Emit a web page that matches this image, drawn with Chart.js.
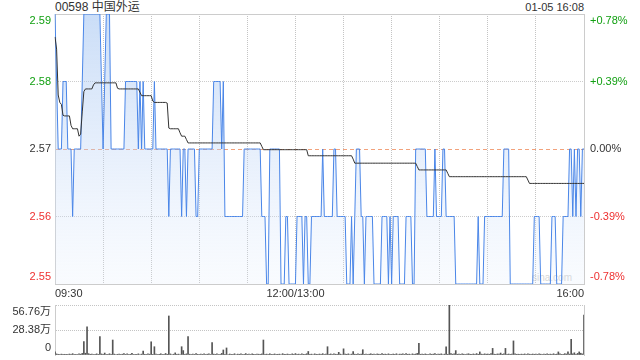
<!DOCTYPE html>
<html><head><meta charset="utf-8">
<script src="https://cdn.jsdelivr.net/npm/chart.js"></script>
<style>
html,body{margin:0;padding:0;background:#fff;width:640px;height:360px;overflow:hidden;}
body{position:relative;font-family:'Liberation Sans','Noto Sans CJK SC',sans-serif;}
#c1{position:absolute;left:0;top:0;}
#c2{position:absolute;left:0;top:290px;}
.t{position:absolute;color:#333;white-space:nowrap;}
</style></head><body>
<div class="t" style="left:55px;top:0px;font-size:12px;line-height:14px;">00598 中国外运</div>
<div class="t" style="right:56px;top:1px;font-size:11px;line-height:13px;">01-05 16:08</div>
<div class="t" style="left:532px;top:272px;font-size:10px;line-height:12px;color:#d6d6d6;">sina.com</div>
<canvas id="c1" width="640" height="300"></canvas>
<canvas id="c2" width="640" height="80"></canvas>
<script>
// ---- data ----
const preClose = 2.57;
const priceTicks = [2.55, 2.56, 2.57, 2.58, 2.59];
const pctTicks = ['-0.78%', '-0.39%', '0.00%', '+0.39%', '+0.78%'];
const volTicks = [0, 28.38, 56.76];
const volTickLabels = ['0', '28.38万', '56.76万'];
const timeGridIdx = [0, 30, 60, 90, 120, 150, 180, 210, 240, 270, 300, 330];
const timeTickIdx = [0, 150, 330];
const timeTickLabels = ['09:30', '12:00/13:00', '16:00'];

const times = [];
function fmt(m){const h=Math.floor(m/60),mm=m%60;return (h<10?'0':'')+h+':'+(mm<10?'0':'')+mm;}
for(let m=9*60+30;m<=12*60;m++) times.push(fmt(m));
for(let m=13*60+1;m<=16*60;m++) times.push(fmt(m));

const price = [
2.59,2.58,2.57,2.57,2.57,2.58,2.58,2.58,2.57,2.57,
2.57,2.56,2.57,2.57,2.57,2.57,2.57,2.58,2.59,2.59,
2.59,2.59,2.59,2.59,2.59,2.59,2.59,2.59,2.59,2.58,
2.57,2.58,2.59,2.59,2.59,2.57,2.57,2.57,2.57,2.57,
2.57,2.57,2.57,2.57,2.58,2.58,2.58,2.58,2.58,2.58,
2.58,2.58,2.57,2.58,2.57,2.58,2.57,2.57,2.57,2.57,
2.57,2.57,2.58,2.57,2.57,2.57,2.57,2.57,2.57,2.57,
2.57,2.56,2.57,2.57,2.57,2.57,2.57,2.57,2.57,2.56,
2.57,2.57,2.56,2.57,2.57,2.57,2.57,2.57,2.56,2.56,
2.57,2.57,2.57,2.57,2.57,2.57,2.57,2.57,2.57,2.58,
2.58,2.58,2.58,2.58,2.57,2.58,2.56,2.56,2.56,2.56,
2.56,2.56,2.56,2.56,2.56,2.56,2.56,2.56,2.57,2.57,
2.57,2.57,2.57,2.57,2.57,2.57,2.57,2.57,2.57,2.56,
2.56,2.56,2.55,2.55,2.57,2.57,2.57,2.57,2.57,2.57,
2.57,2.55,2.55,2.55,2.56,2.56,2.55,2.55,2.55,2.55,
2.55,2.56,2.56,2.56,2.56,2.55,2.56,2.56,2.55,2.55,
2.56,2.56,2.56,2.56,2.56,2.56,2.56,2.57,2.56,2.56,
2.56,2.56,2.56,2.56,2.57,2.57,2.56,2.56,2.56,2.56,
2.56,2.56,2.55,2.55,2.55,2.56,2.55,2.56,2.57,2.57,
2.57,2.56,2.56,2.55,2.56,2.56,2.56,2.56,2.56,2.55,
2.55,2.55,2.55,2.55,2.56,2.56,2.56,2.56,2.55,2.56,
2.55,2.56,2.56,2.56,2.56,2.55,2.55,2.55,2.55,2.56,
2.56,2.56,2.56,2.55,2.55,2.57,2.57,2.57,2.57,2.57,
2.57,2.57,2.56,2.56,2.56,2.56,2.56,2.57,2.56,2.56,
2.56,2.56,2.57,2.57,2.56,2.56,2.56,2.56,2.56,2.56,
2.55,2.55,2.55,2.55,2.55,2.55,2.55,2.55,2.55,2.55,
2.55,2.55,2.55,2.55,2.56,2.55,2.55,2.55,2.56,2.56,
2.56,2.56,2.56,2.56,2.56,2.56,2.56,2.56,2.56,2.56,
2.57,2.57,2.57,2.57,2.55,2.55,2.55,2.55,2.55,2.55,
2.55,2.55,2.55,2.55,2.55,2.55,2.55,2.55,2.55,2.56,
2.56,2.56,2.56,2.55,2.55,2.55,2.55,2.55,2.55,2.55,
2.56,2.56,2.56,2.55,2.55,2.55,2.55,2.56,2.56,2.56,
2.56,2.57,2.57,2.56,2.57,2.56,2.57,2.57,2.56,2.57,
2.57
];

const avgPrice = [
2.5866,2.5848,2.5780,2.5769,2.5766,2.5750,2.5749,2.5749,2.5749,2.5749,
2.5735,2.5730,2.5730,2.5730,2.5730,2.5719,2.5722,2.5755,2.5785,2.5789,
2.5789,2.5789,2.5789,2.5789,2.5795,2.5798,2.5798,2.5798,2.5798,2.5798,
2.5798,2.5798,2.5798,2.5798,2.5798,2.5798,2.5798,2.5798,2.5798,2.5790,
2.5789,2.5789,2.5789,2.5789,2.5789,2.5789,2.5789,2.5789,2.5789,2.5789,
2.5789,2.5789,2.5789,2.5784,2.5779,2.5779,2.5779,2.5779,2.5779,2.5779,
2.5779,2.5771,2.5769,2.5769,2.5769,2.5769,2.5769,2.5769,2.5769,2.5769,
2.5768,2.5731,2.5730,2.5730,2.5730,2.5730,2.5730,2.5730,2.5724,2.5719,
2.5719,2.5719,2.5714,2.5709,2.5709,2.5709,2.5709,2.5709,2.5709,2.5709,
2.5709,2.5709,2.5709,2.5709,2.5709,2.5709,2.5709,2.5709,2.5709,2.5709,
2.5709,2.5709,2.5709,2.5709,2.5709,2.5709,2.5709,2.5709,2.5709,2.5709,
2.5709,2.5709,2.5709,2.5709,2.5709,2.5709,2.5709,2.5709,2.5709,2.5709,
2.5709,2.5709,2.5709,2.5709,2.5709,2.5709,2.5709,2.5709,2.5709,2.5704,
2.5699,2.5699,2.5699,2.5699,2.5699,2.5699,2.5699,2.5699,2.5699,2.5699,
2.5699,2.5699,2.5699,2.5699,2.5699,2.5699,2.5699,2.5699,2.5699,2.5699,
2.5699,2.5699,2.5699,2.5699,2.5699,2.5699,2.5699,2.5699,2.5690,2.5690,
2.5690,2.5690,2.5690,2.5690,2.5690,2.5690,2.5690,2.5690,2.5690,2.5690,
2.5690,2.5690,2.5690,2.5690,2.5690,2.5690,2.5690,2.5690,2.5690,2.5690,
2.5690,2.5690,2.5690,2.5690,2.5690,2.5690,2.5685,2.5679,2.5679,2.5679,
2.5679,2.5679,2.5679,2.5679,2.5679,2.5679,2.5679,2.5679,2.5679,2.5679,
2.5679,2.5679,2.5679,2.5679,2.5679,2.5679,2.5679,2.5679,2.5679,2.5679,
2.5679,2.5679,2.5679,2.5679,2.5679,2.5679,2.5679,2.5679,2.5679,2.5679,
2.5679,2.5679,2.5679,2.5679,2.5679,2.5679,2.5674,2.5669,2.5669,2.5669,
2.5669,2.5669,2.5669,2.5669,2.5669,2.5669,2.5669,2.5669,2.5669,2.5669,
2.5669,2.5669,2.5669,2.5669,2.5669,2.5664,2.5659,2.5659,2.5659,2.5659,
2.5659,2.5659,2.5659,2.5659,2.5659,2.5659,2.5659,2.5659,2.5659,2.5659,
2.5659,2.5659,2.5659,2.5659,2.5659,2.5659,2.5659,2.5659,2.5659,2.5659,
2.5659,2.5659,2.5659,2.5659,2.5659,2.5659,2.5659,2.5659,2.5659,2.5659,
2.5659,2.5659,2.5659,2.5659,2.5659,2.5659,2.5659,2.5659,2.5659,2.5659,
2.5659,2.5659,2.5659,2.5659,2.5659,2.5654,2.5649,2.5649,2.5649,2.5649,
2.5649,2.5649,2.5649,2.5649,2.5649,2.5649,2.5649,2.5649,2.5649,2.5649,
2.5649,2.5649,2.5649,2.5649,2.5649,2.5649,2.5649,2.5649,2.5649,2.5649,
2.5649,2.5649,2.5649,2.5649,2.5649,2.5649,2.5649,2.5649,2.5649,2.5649,
2.5649
];

// volume in 万 shares
const volume = [
3.5,1.2,0.8,0.6,1.0,0.5,0.8,0.4,0.6,1.1,
0.7,1.5,0.5,0.8,0.6,1.2,0.9,1.8,15.1,2.0,
32.1,1.5,0.8,1.0,0.6,0.9,1.3,0.7,20.8,1.2,
0.8,2.2,0.6,0.9,1.4,0.7,17.0,1.0,0.6,0.8,
1.1,0.5,0.9,1.6,0.7,1.2,0.6,0.8,1.9,0.5,
0.9,0.7,1.3,0.6,1.0,4.5,0.8,0.5,1.2,0.9,
15.0,0.7,9.4,1.1,0.6,0.8,1.4,0.5,0.9,1.7,
0.8,44.3,1.2,0.6,0.9,2.4,0.7,1.0,0.6,9.4,
5.0,0.8,1.3,20.8,0.9,0.6,1.1,0.7,1.5,0.8,
0.6,1.0,0.7,1.2,0.5,0.9,1.4,0.6,14.0,1.0,
0.7,1.3,0.6,0.9,1.8,5.7,0.8,8.0,0.6,1.1,
0.7,0.9,1.4,0.6,1.0,0.8,1.2,0.5,0.9,1.6,
0.7,1.0,0.6,1.3,0.8,0.5,1.1,0.9,0.7,1.2,
17.0,0.8,1.0,0.6,1.4,0.7,0.9,1.2,0.5,0.8,
1.0,0.6,1.5,0.8,0.7,1.1,0.9,0.6,1.3,0.8,
1.6,0.7,1.0,0.6,1.2,0.8,0.9,1.4,4.0,0.7,
1.0,0.6,1.3,0.8,0.9,1.1,0.7,1.5,0.6,1.0,
9.4,0.8,1.2,0.6,1.4,0.9,0.7,3.0,1.0,0.6,
7.0,1.1,0.8,1.3,0.6,1.0,4.0,0.9,0.7,1.2,
0.8,1.0,6.0,0.7,1.1,0.6,0.9,1.4,0.8,1.0,
0.6,1.2,0.9,0.7,1.5,0.8,1.0,0.6,1.3,0.9,
0.7,1.1,0.8,1.4,0.6,1.0,0.9,1.2,0.7,1.6,
0.8,1.0,0.6,1.3,0.9,1.1,1.8,13.3,0.8,1.0,
0.7,1.2,0.9,0.6,1.4,0.8,1.0,1.7,0.7,1.1,
0.9,1.3,0.6,1.0,9.4,0.8,56.76,1.5,0.9,1.2,
5.0,0.8,1.1,0.7,1.3,0.9,0.6,1.0,1.4,0.8,
0.7,1.2,0.9,1.6,0.8,3.5,1.0,0.7,1.3,0.9,
1.1,0.8,1.5,7.5,0.9,0.7,1.2,1.0,2.2,0.8,
1.3,7.5,0.9,1.1,0.7,1.0,16.0,1.2,0.8,0.9,
0.7,1.0,0.8,1.2,0.6,1.4,0.9,0.7,1.1,0.8,
1.0,0.7,1.3,0.9,0.6,1.1,0.8,1.2,0.7,1.0,
0.9,1.4,0.8,1.0,3.5,1.2,0.7,0.9,1.5,1.1,
3.5,1.0,17.8,1.3,2.5,0.9,1.8,3.5,2.0,1.2,
45.4
];

// ---- charts ----
Chart.defaults.font.family = "'Liberation Sans','Noto Sans CJK SC',sans-serif";
Chart.defaults.font.size = 11;

const GREEN = '#12a012', RED = '#ee3030', DARK = '#333';
function tickColor(v){ if (Math.abs(v - preClose) < 1e-6) return DARK; return v > preClose ? GREEN : RED; }
function edgeLabel(t, i, n){ if (i === n - 1) return ['', t]; if (i === 0) return [t, '']; return t; }
function fixV(w){ return s => { s.width = w; s.paddingTop = 0; s.paddingBottom = 0; }; }

const priceGradient = (ctx) => {
  const ca = ctx.chart.chartArea;
  if (!ca) return 'rgba(170,200,242,0.4)';
  const g = ctx.chart.ctx.createLinearGradient(0, ca.top, 0, ca.bottom);
  g.addColorStop(0, 'rgba(150,188,240,0.5)');
  g.addColorStop(0.5, 'rgba(190,213,246,0.38)');
  g.addColorStop(1, 'rgba(225,236,252,0.2)');
  return g;
};

const lastIdx = times.length - 1;

new Chart(document.getElementById('c1'), {
  type: 'line',
  data: {
    labels: times,
    datasets: [
      { label: '均价', data: avgPrice, borderColor: '#333', borderWidth: 1, pointRadius: 0, fill: false, tension: 0, order: 0, yAxisID: 'y' },
      { label: '价格', data: price, borderColor: '#4a86e8', borderWidth: 1, pointRadius: 0, fill: 'start', backgroundColor: priceGradient, tension: 0, order: 1, yAxisID: 'y' }
    ]
  },
  options: {
    responsive: false, animation: false, devicePixelRatio: 1,
    layout: { padding: { top: 14, left: 0, right: 0, bottom: 0 } },
    plugins: { legend: { display: false }, tooltip: { enabled: false } },
    scales: {
      x: {
        type: 'category', offset: false,
        afterBuildTicks: s => { s.ticks = timeGridIdx.map(v => ({ value: v })); },
        afterFit: s => { s.height = 16; s.paddingLeft = 0; s.paddingRight = 0; },
        ticks: {
          autoSkip: false, maxRotation: 0, minRotation: 0, align: 'inner', padding: 3, color: DARK,
          callback: (v) => { const k = timeTickIdx.indexOf(v); return k >= 0 ? timeTickLabels[k] : ''; }
        },
        grid: {
          drawTicks: false,
          color: c => (c.tick && c.tick.value > 0 && c.tick.value < lastIdx) ? '#c4c4c4' : 'rgba(0,0,0,0)'
        },
        border: { color: '#ccc', dash: [1, 1] }
      },
      y: {
        type: 'linear', position: 'left', min: priceTicks[0], max: priceTicks[priceTicks.length - 1],
        afterBuildTicks: s => { s.ticks = priceTicks.map(v => ({ value: v })); },
        afterFit: fixV(55),
        ticks: {
          autoSkip: false, padding: 4,
          color: c => tickColor(priceTicks[c.index]),
          callback: (v, i) => edgeLabel(priceTicks[i].toFixed(2), i, priceTicks.length)
        },
        grid: {
          drawTicks: false,
          color: c => (c.index === 2 ? '#f2a27c' : '#cccccc')
        },
        border: {
          color: '#ccc',
          dash: c => (c.index === 2 ? [4, 3] : (c.index === 1 || c.index === 3) ? [1, 1] : [])
        }
      },
      y1: {
        type: 'linear', position: 'right', min: priceTicks[0], max: priceTicks[priceTicks.length - 1],
        afterBuildTicks: s => { s.ticks = priceTicks.map(v => ({ value: v })); },
        afterFit: fixV(56),
        ticks: {
          autoSkip: false, padding: 6,
          color: c => tickColor(priceTicks[c.index]),
          callback: (v, i) => edgeLabel(pctTicks[i], i, pctTicks.length)
        },
        grid: { drawOnChartArea: false, drawTicks: false },
        border: { color: '#ccc' }
      }
    }
  }
});

new Chart(document.getElementById('c2'), {
  type: 'bar',
  data: {
    labels: times,
    datasets: [{ label: '成交量', data: volume, backgroundColor: '#555', barThickness: 1, borderWidth: 0 }]
  },
  options: {
    responsive: false, animation: false, devicePixelRatio: 1,
    layout: { padding: { top: 15, bottom: 15, left: 0, right: 0 } },
    plugins: { legend: { display: false }, tooltip: { enabled: false } },
    scales: {
      x: { type: 'category', offset: false, display: false },
      y: {
        type: 'linear', position: 'left', min: 0, max: volTicks[volTicks.length - 1],
        afterBuildTicks: s => { s.ticks = volTicks.map(v => ({ value: v })); },
        afterFit: fixV(55),
        ticks: {
          autoSkip: false, padding: 4, color: DARK,
          callback: (v, i) => edgeLabel(volTickLabels[i], i, volTickLabels.length)
        },
        grid: { drawTicks: false, color: c => (c.index === 0 ? 'rgba(0,0,0,0)' : '#c4c4c4') },
        border: { color: '#ccc', dash: [1, 1] }
      },
      yr: {
        type: 'linear', position: 'right', min: 0, max: volTicks[volTicks.length - 1],
        afterFit: fixV(56),
        ticks: { display: false },
        grid: { drawOnChartArea: false, drawTicks: false },
        border: { color: '#ccc' }
      }
    }
  }
});
</script>
</body></html>
